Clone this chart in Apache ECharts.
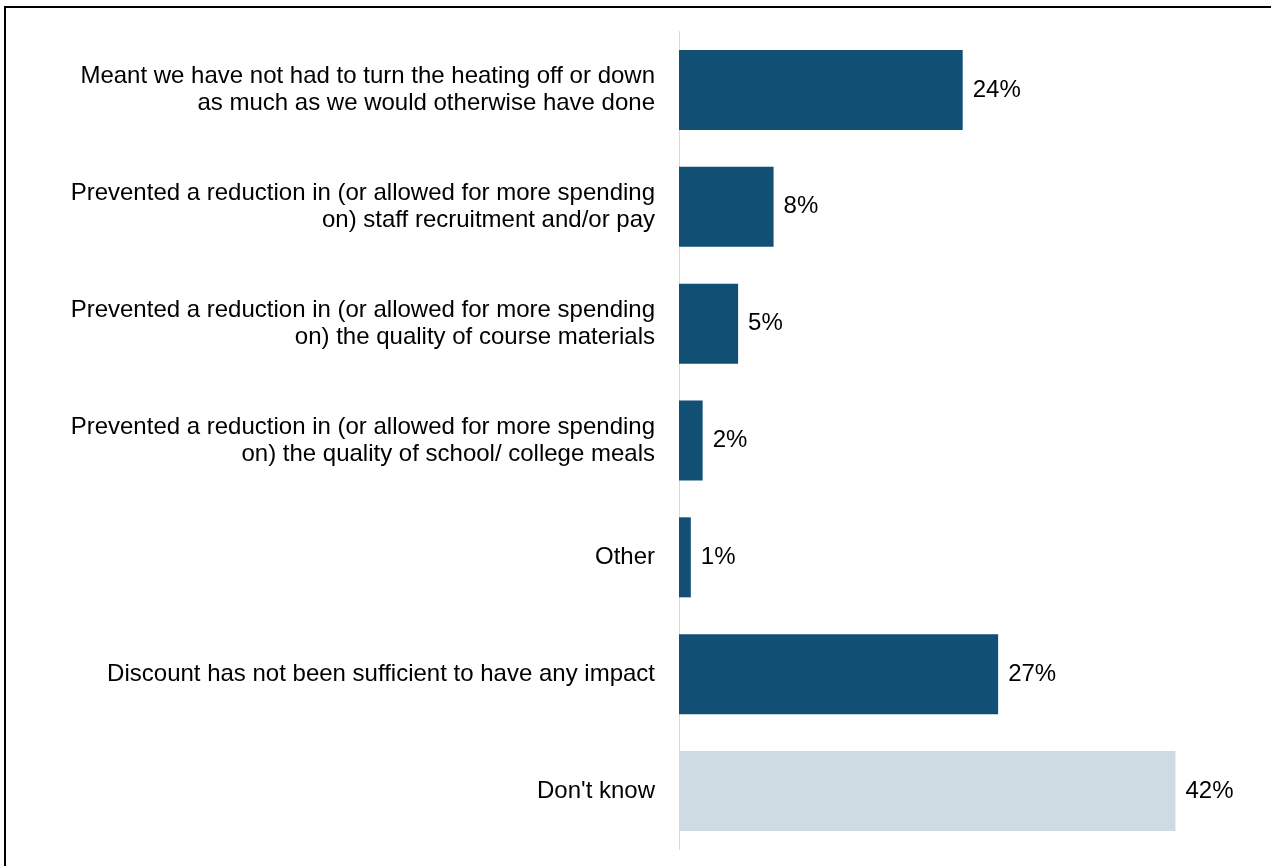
<!DOCTYPE html>
<html>
<head>
<meta charset="utf-8">
<script src="https://cdn.jsdelivr.net/npm/echarts@6/dist/echarts.min.js"></script>
<style>
  html, body { margin: 0; padding: 0; background: #fff; }
  #chart { width: 1271px; height: 866px; }
</style>
</head>
<body>
<div id="chart"></div>
<script>
// Impact of the energy discount (share of respondents, %)
const categories = [
  "Meant we have not had to turn the heating off or down\nas much as we would otherwise have done",
  "Prevented a reduction in (or allowed for more spending\non) staff recruitment and/or pay",
  "Prevented a reduction in (or allowed for more spending\non) the quality of course materials",
  "Prevented a reduction in (or allowed for more spending\non) the quality of school/ college meals",
  "Other",
  "Discount has not been sufficient to have any impact",
  "Don't know"
];
const values = [24, 8, 5, 2, 1, 27, 42];
const barColors = ["#114f74", "#114f74", "#114f74", "#114f74", "#114f74", "#114f74", "#cfdbe3"];

const chart = echarts.init(document.getElementById('chart'), null, { renderer: 'canvas' });

chart.setOption({
  animation: false,
  backgroundColor: '#ffffff',
  textStyle: { fontFamily: 'Liberation Sans, Arial, sans-serif' },
  graphic: [{
    type: 'rect',
    shape: { x: 5, y: 7, width: 1400, height: 1000 },
    style: { fill: 'none', stroke: '#000000', lineWidth: 2 },
    silent: true
  }],
  grid: { left: 679, right: 1, top: 31.6, bottom: 16.6 },
  xAxis: {
    type: 'value',
    min: 0,
    max: 50,
    show: false
  },
  yAxis: {
    type: 'category',
    inverse: true,
    data: categories,
    axisLine: { show: true, lineStyle: { color: '#d9d9d9', width: 1 } },
    axisTick: { show: false },
    axisLabel: {
      margin: 24,
      color: '#000000',
      fontSize: 24,
      lineHeight: 27,
      align: 'right',
      fontFamily: 'Liberation Sans, Arial, sans-serif'
    }
  },
  series: [{
    type: 'bar',
    barWidth: 80,
    data: values.map((v, i) => ({ value: v, itemStyle: { color: barColors[i] } })),
    label: {
      show: true,
      position: 'right',
      distance: 10,
      color: '#000000',
      fontSize: 24,
      fontFamily: 'Liberation Sans, Arial, sans-serif',
      formatter: p => p.value + '%'
    }
  }]
});
</script>
</body>
</html>
